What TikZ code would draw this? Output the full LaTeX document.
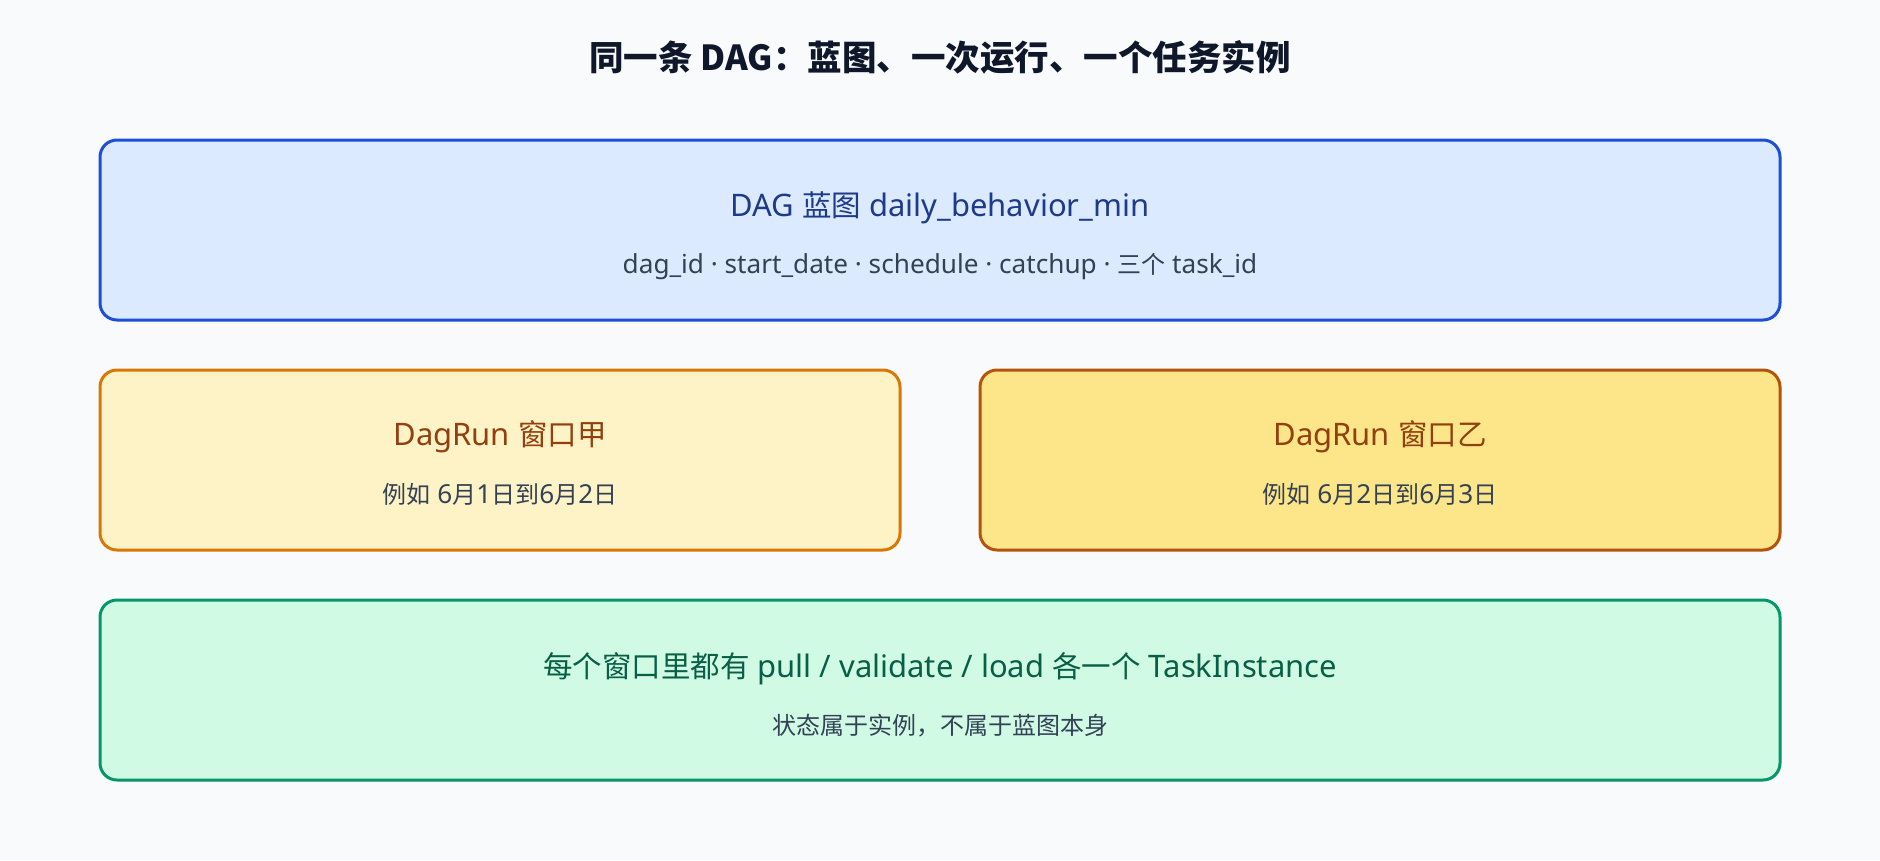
\documentclass[tikz,border=0pt]{standalone}
\usepackage{fontspec}
\setmainfont{Noto Sans}[Scale=1.05]
\newfontfamily\sublatin{Noto Sans}[Scale=1.09]
\newfontfamily\cjk{Noto Sans CJK SC}
\newcommand{\zh}[1]{{\cjk #1}}
\definecolor{bg}{HTML}{F8FAFC}
\definecolor{titlec}{HTML}{0F172A}
\definecolor{subc}{HTML}{334155}
\definecolor{bluefill}{HTML}{DBEAFE}
\definecolor{bluedraw}{HTML}{1D4ED8}
\definecolor{bluetext}{HTML}{1E3A8A}
\definecolor{ambfillA}{HTML}{FEF3C7}
\definecolor{ambfillB}{HTML}{FDE68A}
\definecolor{ambdrawA}{HTML}{D97706}
\definecolor{ambdrawB}{HTML}{B45309}
\definecolor{ambtext}{HTML}{92400E}
\definecolor{grnfill}{HTML}{D1FAE5}
\definecolor{grndraw}{HTML}{059669}
\definecolor{grntext}{HTML}{065F46}
\tikzset{
  card/.style={line width=3pt, rounded corners=17pt},
  maintext/.style={anchor=base, font=\fontsize{29.5pt}{32pt}\selectfont, inner sep=0pt},
  subtext/.style={anchor=base, font=\fontsize{24pt}{27pt}\selectfont\sublatin, text=subc, inner sep=0pt},
  titletext/.style={anchor=base, font=\fontsize{34.5pt}{38pt}\selectfont\cjk\bfseries, text=titlec, inner sep=0pt}
}
\begin{document}
\begin{tikzpicture}[x=1pt,y=-1pt]
\fill[bg] (0,0) rectangle (1880,860);
\useasboundingbox (0,0) rectangle (1880,860);
\node[titletext] (title) at (940,70) {同一条 DAG：蓝图、一次运行、一个任务实例};
% DAG blueprint
\draw[card, fill=bluefill, draw=bluedraw] (100,140) rectangle (1780,320);
\node[maintext, text=bluetext] (dagmain) at (940,216) {DAG \zh{蓝图} daily\_behavior\_min};
\node[subtext] (dagsub) at (940,273) {dag\_id · start\_date · schedule · catchup · \zh{三个} task\_id};
% DagRun A
\draw[card, fill=ambfillA, draw=ambdrawA] (100,370) rectangle (900,550);
\node[maintext, text=ambtext] (runAmain) at (500,445) {DagRun \zh{窗口甲}};
\node[subtext] (runAsub) at (500,503) {\zh{例如} 6\zh{月}1\zh{日到}6\zh{月}2\zh{日}};
% DagRun B
\draw[card, fill=ambfillB, draw=ambdrawB] (980,370) rectangle (1780,550);
\node[maintext, text=ambtext] (runBmain) at (1380,445) {DagRun \zh{窗口乙}};
\node[subtext] (runBsub) at (1380,503) {\zh{例如} 6\zh{月}2\zh{日到}6\zh{月}3\zh{日}};
% TaskInstance
\draw[card, fill=grnfill, draw=grndraw] (100,600) rectangle (1780,780);
\node[maintext, text=grntext] (timain) at (940,677) {\zh{每个窗口里都有} pull / validate / load \zh{各一个} TaskInstance};
\node[subtext] (tisub) at (940,734) {\zh{状态属于实例，不属于蓝图本身}};
\end{tikzpicture}
\end{document}
